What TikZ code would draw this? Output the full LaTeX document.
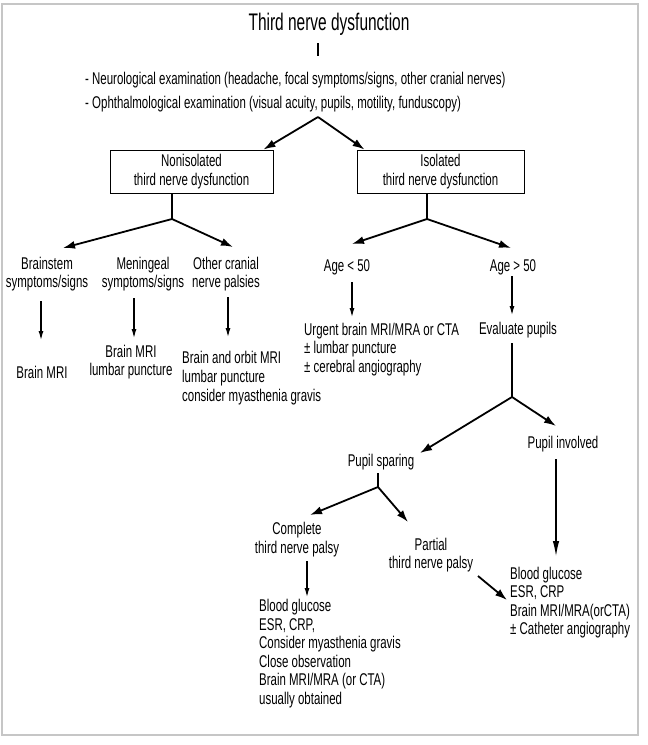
\documentclass[tikz,border=0pt]{standalone}
\usepackage{fontspec}
\setmainfont{Liberation Sans}[FakeStretch=0.675]
\newfontfamily\titlefont{Liberation Sans}[FakeStretch=0.645]
\usetikzlibrary{arrows.meta}
\begin{document}
\begin{tikzpicture}[x=1pt,y=-1pt,
  txt/.style={inner sep=0pt, font=\fontsize{17}{18.6}\selectfont, align=center},
  ltxt/.style={txt, align=left, anchor=west},
  box/.style={draw, line width=0.9pt, minimum width=163pt, minimum height=43pt, txt},
  diag/.style={line width=1.8pt, -{Latex[length=12pt,width=8pt]}},
  down/.style={line width=1.1pt, -{Latex[length=9pt,width=5pt]}},
  longdown/.style={line width=1.1pt, -{Latex[length=15pt,width=6.5pt]}},
  plain/.style={line width=1.1pt}]
\useasboundingbox (0,0) rectangle (648,745);
\draw[gray!45, line width=2pt] (2,4) rectangle (638,735);

\node[txt, font=\titlefont\fontsize{24}{26}\selectfont] (title) at (329,24) {Third nerve dysfunction};
\coordinate (tickend) at (318,56);
\draw[plain] (title.south -| tickend) ++(0,-8pt) -- (tickend);

\node[ltxt] (exam) at (85,92.5) {- Neurological examination (headache, focal symptoms/signs, other cranial nerves)\\[5.4pt]- Ophthalmological examination (visual acuity, pupils, motility, funduscopy)};

\node[box] (lbox) at (191.5,171.5) {Nonisolated\\third nerve dysfunction};
\node[box, minimum width=167pt] (rbox) at (440.5,171.5) {Isolated\\third nerve dysfunction};

\coordinate (apex) at (318,117);
\draw[diag] (apex) -- ([xshift=-10pt]lbox.north east);
\draw[diag] (apex) -- ([xshift=8pt]rbox.north west);

\node[txt] (bs) at (47,274) {Brainstem\\symptoms/signs};
\node[txt] (men) at (143,274) {Meningeal\\symptoms/signs};
\node[txt] (oth) at (226,274) {Other cranial\\nerve palsies};
\node[txt] (age1) at (347,267) {Age < 50};
\node[txt] (age2) at (513,267) {Age > 50};

\coordinate (forkL) at (172,219);
\coordinate (forkR) at (427,219);
\draw[plain] ([xshift=-19.5pt]lbox.south) -- (forkL);
\draw[plain] ([xshift=-13.5pt]rbox.south) -- (forkR);
\draw[diag] (forkL) -- ([shift={(16,-26)}]bs.center);
\draw[diag] (forkL) -- ([shift={(7,-27)}]oth.center);
\draw[diag] (forkR) -- ([shift={(5,-23)}]age1.center);
\draw[diag] (forkR) -- ([shift={(-2,-19)}]age2.center);

\node[txt] (r1) at (42,372) {Brain MRI};
\node[txt] (r2) at (131,362) {Brain MRI\\lumbar puncture};
\node[ltxt] (r3) at (182,378) {Brain and orbit MRI\\lumbar puncture\\consider myasthenia gravis};
\node[ltxt] (urg) at (304,349.5) {Urgent brain MRI/MRA or CTA\\± lumbar puncture\\± cerebral angiography};
\node[txt] (eval) at (518,330) {Evaluate pupils};

\draw[down] ([shift={(-6,27)}]bs.center) -- ([shift={(-1,-32)}]r1.center);
\draw[down] ([shift={(-9,24)}]men.center) -- ([shift={(3,-24)}]r2.center);
\draw[down] ([shift={(2,23)}]oth.center) -- ([shift={(46,-41)}]r3.west);
\draw[down] ([shift={(5,15)}]age1.center) -- ([shift={(48,-32.5)}]urg.west);
\draw[down] ([shift={(-1,9)}]age2.center) -- ([shift={(-6,-15)}]eval.center);

\coordinate (fork3) at (512,397);
\draw[plain] ([shift={(-6,13)}]eval.center) -- (fork3);

\node[txt] (ps) at (381,462) {Pupil sparing};
\node[txt] (pi) at (563,444) {Pupil involved};
\draw[diag] (fork3) -- ([shift={(39,-9)}]ps.center);
\draw[diag] (fork3) -- ([shift={(-7,-18)}]pi.center);

\node[txt] (comp) at (297,539.5) {Complete\\third nerve palsy};
\node[txt] (part) at (431,555) {Partial\\third nerve palsy};
\coordinate (fork4) at (378,487);
\draw[plain] ([shift={(-3,11)}]ps.center) -- (fork4);
\draw[diag] (fork4) -- ([shift={(13,-24.5)}]comp.center);
\draw[diag] (fork4) -- ([shift={(-23,-33)}]part.center);

\node[ltxt] (resL) at (259,653.5) {Blood glucose\\ESR, CRP,\\Consider myasthenia gravis\\Close observation\\Brain MRI/MRA (or CTA)\\usually obtained};
\node[ltxt] (resR) at (510,602.5) {Blood glucose\\ESR, CRP\\Brain MRI/MRA(orCTA)\\± Catheter angiography};

\draw[down] ([shift={(10,21.5)}]comp.center) -- ([shift={(48,-56.5)}]resL.west);
\draw[longdown] ([shift={(-7,15)}]pi.center) -- ([shift={(46,-46.5)}]resR.west);
\draw[diag] ([shift={(47,21)}]part.center) -- ([shift={(-3,-2.5)}]resR.west);
\end{tikzpicture}
\end{document}
